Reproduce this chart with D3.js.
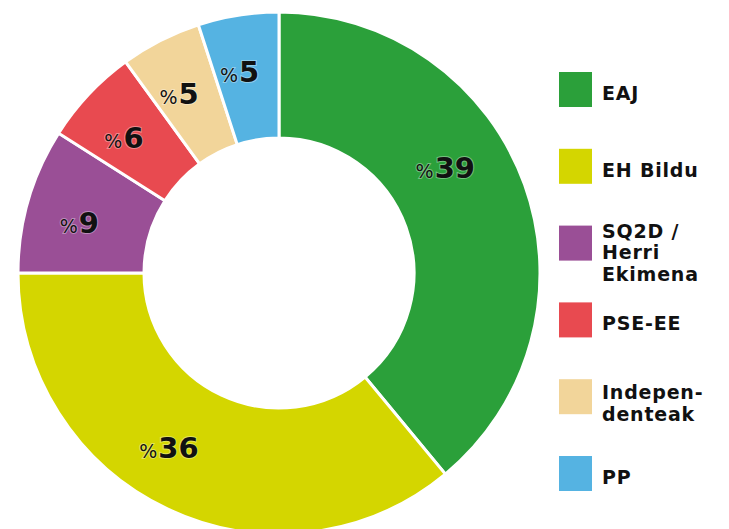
<!DOCTYPE html>
<html><head><meta charset="utf-8">
<script src="https://cdn.jsdelivr.net/npm/d3@7"></script>
<style>html,body{margin:0;padding:0;background:#fff;}svg{display:block;}</style>
</head><body>
<svg id="chart" width="729" height="529"></svg>
<script>
const categories = ["EAJ", "EH Bildu", "SQ2D / Herri Ekimena", "PSE-EE", "Independenteak", "PP"];
const legendLines = [["EAJ"], ["EH Bildu"], ["SQ2D /", "Herri", "Ekimena"], ["PSE-EE"], ["Indepen-", "denteak"], ["PP"]];
const values = [39, 36, 9, 6, 5, 5];
const colors = ["#2ba03a", "#d4d600", "#9a4f96", "#e84a50", "#f2d59a", "#55b3e2"];

const svg = d3.select("#chart");
const cx = 279, cy = 273, rOuter = 261, rInner = 135, rLabel = 206;

const pie = d3.pie().sort(null).value(d => d)(values);
const arc = d3.arc().innerRadius(rInner).outerRadius(rOuter);

const g = svg.append("g").attr("transform", `translate(${cx},${cy})`);
g.selectAll("path").data(pie).join("path")
  .attr("d", arc)
  .attr("fill", (d, i) => colors[i])
  .attr("stroke", "#fff")
  .attr("stroke-width", 3);

// label placement: near each slice's middle (first two slices nudged like the original)
const frac = i => (i === 0 ? 0.41 : i === 1 ? 0.555 : 0.5);
const lbl = g.selectAll("text.lbl").data(pie).join("text")
  .attr("class", "lbl")
  .attr("transform", (d, i) => {
    const a = d.startAngle + (d.endAngle - d.startAngle) * frac(i) - (i > 1 ? 0.035 : 0);
    const r = i === 0 ? 197 : rLabel;
    const la = d3.arc().innerRadius(r).outerRadius(r);
    const p = la.centroid({startAngle: a, endAngle: a});
    return `translate(${p[0]},${p[1] + 11})`;
  })
  .attr("text-anchor", "middle")
  .attr("font-family", "DejaVu Sans, sans-serif")
  .attr("fill", "#111")
  .attr("stroke", "rgba(255,255,255,0.35)")
  .attr("stroke-width", 2)
  .attr("paint-order", "stroke");
lbl.append("tspan").attr("font-size", 19).attr("font-weight", "normal").text("%");
lbl.append("tspan").attr("font-size", 29).attr("font-weight", "bold").attr("dx", 1).text(d => d.data);

const ly = d3.scaleLinear().domain([0, categories.length - 1]).range([72, 456]);
const leg = svg.append("g");
const items = leg.selectAll("g").data(categories).join("g")
  .attr("transform", (d, i) => `translate(559,${ly(i)})`);
items.append("rect").attr("width", 33).attr("height", 35).attr("fill", (d, i) => colors[i]);
items.append("text")
  .attr("font-family", "DejaVu Sans, sans-serif")
  .attr("font-weight", "bold")
  .attr("font-size", 19)
  .attr("letter-spacing", 0.8)
  .attr("fill", "#111")
  .each(function(d, i) {
    const lines = legendLines[i];
    const t = d3.select(this);
    const lh = 21.5;
    const y0 = lines.length === 1 ? 28 : (lines.length === 2 ? 20 : 12);
    lines.forEach((ln, k) => {
      t.append("tspan").attr("x", 43).attr("y", y0 + k * lh).text(ln);
    });
  });
</script>
</body></html>
